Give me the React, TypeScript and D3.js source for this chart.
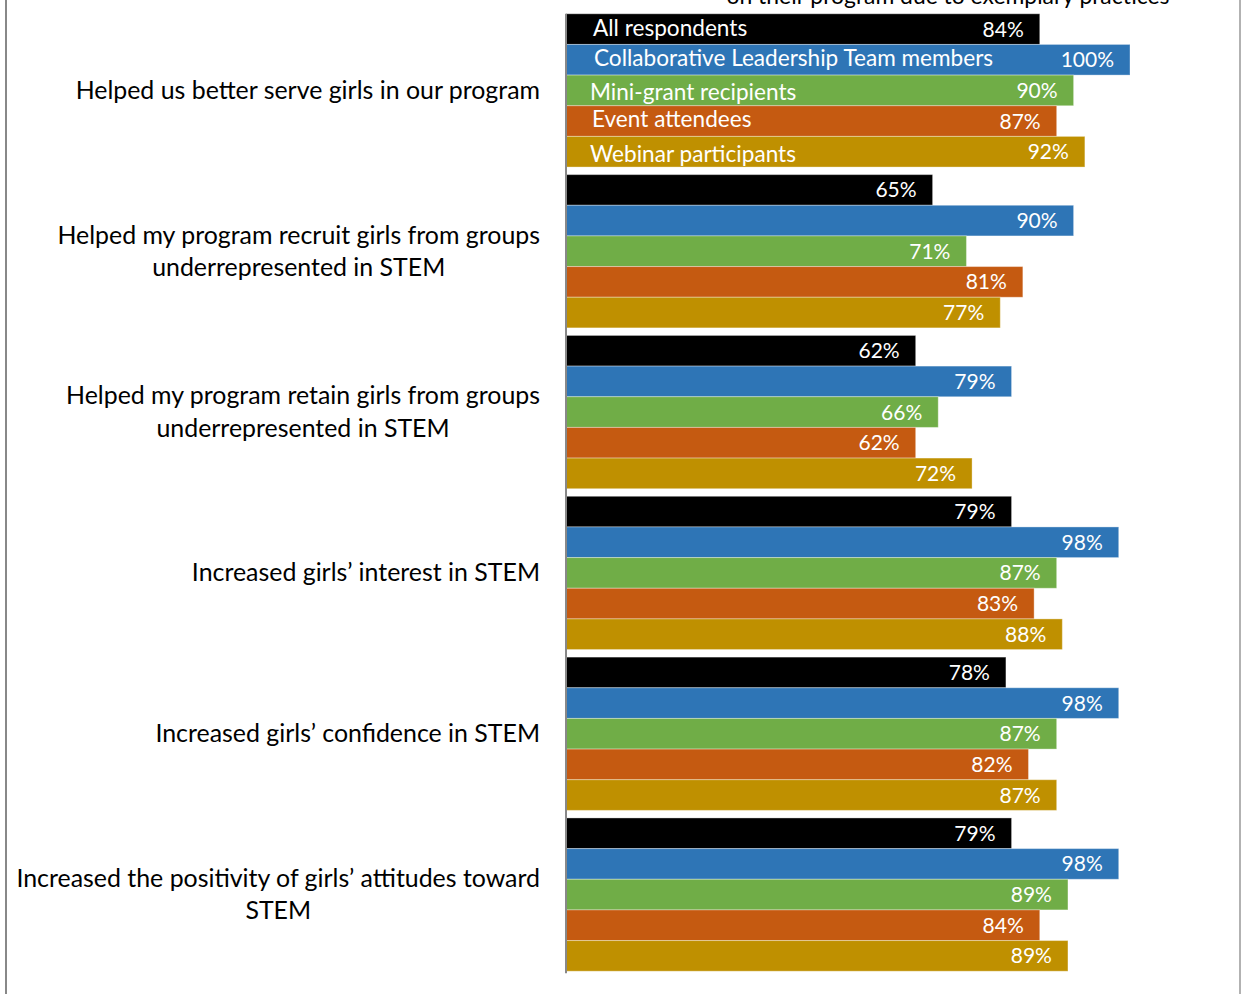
import React, { useEffect, useRef } from "react";
import * as d3 from "d3";

const categories: string[][] = [
  ["Helped us better serve girls in our program"],
  ["Helped my program recruit girls from groups", "underrepresented in STEM"],
  ["Helped my program retain girls from groups", "underrepresented in STEM"],
  ["Increased girls\u2019 interest in STEM"],
  ["Increased girls\u2019 confidence in STEM"],
  ["Increased the positivity of girls\u2019 attitudes toward", "STEM"],
];

const seriesNames = [
  "All respondents",
  "Collaborative Leadership Team members",
  "Mini-grant recipients",
  "Event attendees",
  "Webinar participants",
];

const seriesColors = ["#000000", "#2E75B6", "#70AD47", "#C55A11", "#BF9000"];

const allRespondents = [84, 65, 62, 79, 78, 79];
const leadershipTeam = [100, 90, 79, 98, 98, 98];
const miniGrant = [90, 71, 66, 87, 87, 89];
const eventAttendees = [87, 81, 62, 83, 82, 84];
const webinar = [92, 77, 72, 88, 87, 89];

const seriesValues = [allRespondents, leadershipTeam, miniGrant, eventAttendees, webinar];

const titleText = "on their program due to exemplary practices";

const W = 1243;
const H = 994;
const FONT = "Lato, 'Open Sans', sans-serif";
const seriesLabelDy = [-0.5, -1.5, 2, -2, 3];
const seriesLabelX = [593, 594, 590, 592, 590];

export default function App() {
  const ref = useRef<SVGSVGElement>(null);

  useEffect(() => {
    const svg = d3.select(ref.current);
    svg.selectAll("*").remove();

    const x = d3.scaleLinear().domain([0, 100]).range([566, 1130]);
    const y0 = d3
      .scaleBand<number>()
      .domain(d3.range(categories.length))
      .range([10, 975])
      .paddingInner(0.047)
      .paddingOuter(0.0235);
    const y1 = d3
      .scaleBand<number>()
      .domain(d3.range(seriesNames.length))
      .range([0, y0.bandwidth()]);

    // frame lines
    svg.append("line").attr("x1", 6).attr("x2", 6).attr("y1", 0).attr("y2", H).attr("stroke", "#888").attr("stroke-width", 2);
    svg.append("line").attr("x1", 1240).attr("x2", 1240).attr("y1", 0).attr("y2", H).attr("stroke", "#999").attr("stroke-width", 1.5);

    // title (cut off at top, as in the reference)
    svg
      .append("text")
      .attr("x", 948)
      .attr("y", 4)
      .attr("text-anchor", "middle")
      .attr("font-family", FONT)
      .attr("font-size", 22.9)
      .attr("fill", "#000")
      .text(titleText);

    const groups = svg
      .selectAll("g.grp")
      .data(categories)
      .enter()
      .append("g")
      .attr("class", "grp")
      .attr("transform", (_d, i) => `translate(0,${y0(i)})`);

    groups.each(function (_d, gi) {
      const g = d3.select(this);
      seriesNames.forEach((_s, si) => {
        const v = seriesValues[si][gi];
        const yy = y1(si)!;
        const bh = y1.bandwidth();
        g.append("rect")
          .attr("x", x(0))
          .attr("y", yy)
          .attr("width", x(v) - x(0))
          .attr("height", bh)
          .attr("fill", seriesColors[si])
          .attr("stroke", "rgba(255,255,255,0.35)")
          .attr("stroke-width", 1);
        g.append("text")
          .attr("x", x(v) - 16)
          .attr("y", yy + bh / 2 + 7.5)
          .attr("text-anchor", "end")
          .attr("font-family", FONT)
          .attr("font-size", 21)
          .attr("fill", "#fff")
          .text(`${v}%`);
        if (gi === 0) {
          g.append("text")
            .attr("x", seriesLabelX[si])
            .attr("y", yy + bh / 2 + 7.5 + seriesLabelDy[si])
            .attr("font-family", FONT)
            .attr("font-size", 22.6)
            .attr("fill", "#fff")
            .text(seriesNames[si]);
        }
      });
    });

    // axis line
    svg
      .append("line")
      .attr("x1", x(0))
      .attr("x2", x(0))
      .attr("y1", y0(0)!)
      .attr("y2", y0(categories.length - 1)! + y0.bandwidth() + 2)
      .attr("stroke", "#888")
      .attr("stroke-width", 2);

    // category labels
    categories.forEach((lines, i) => {
      const cy = y0(i)! + y0.bandwidth() / 2;
      const lh = 32.5;
      const t = svg
        .append("text")
        .attr("font-family", FONT)
        .attr("font-size", 24.9)
        .attr("fill", "#000")
        .attr("text-anchor", "middle");
      const spans = lines.map((ln, li) =>
        t
          .append("tspan")
          .attr("y", cy + 8.5 + (li - (lines.length - 1) / 2) * lh)
          .text(ln)
      );
      const widths = spans.map((s) => (s.node() as SVGTSpanElement).getComputedTextLength());
      const maxW = d3.max(widths) || 0;
      const cx = 540 - maxW / 2;
      spans.forEach((s) => s.attr("x", cx));
    });
  }, []);

  return (
    <svg
      ref={ref}
      width={W}
      height={H}
      style={{ position: "absolute", left: 0, top: 0, background: "#fff" }}
    />
  );
}
